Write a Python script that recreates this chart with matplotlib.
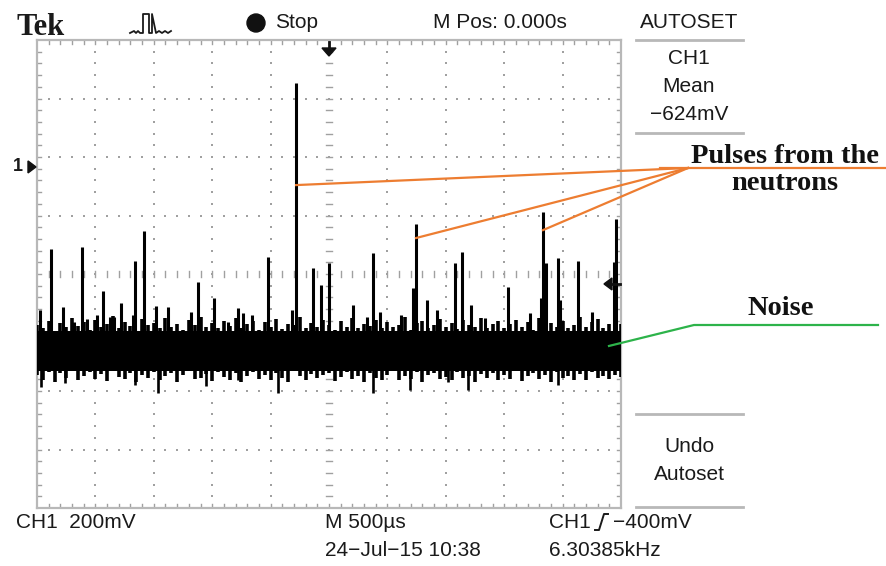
import matplotlib.pyplot as plt
import numpy as np
from matplotlib.patches import Polygon, Circle

W, H = 886, 566

# scope settings
mv_per_div = 200
us_per_div = 500
ground_div = 1.83          # CH1 ground marker, divisions above centre
y_lo = (-4 - ground_div) * mv_per_div
y_hi = (4 - ground_div) * mv_per_div

# neutron pulses (and smaller bumps): time in us, peak in mV
pulse_t = [26, 120, 223, 317, 385, 428, 514, 565, 625, 659, 719, 822, 839, 916,
           1019, 1122, 1319, 1378, 1515, 1635, 1721, 1764, 1841, 1978, 2183, 2218,
           2363, 2432, 2500, 2706, 2825, 2877, 2937, 3117, 3219, 3245, 3339, 3425,
           3579, 3639, 3716, 3836, 4033, 4221, 4315, 4332, 4358, 4461, 4478, 4632,
           4752, 4940, 4957]
pulse_v = [-489, -281, -479, -530, -274, -520, -506, -424, -513, -513, -465, -506, -322, -219,
           -475, -479, -496, -393, -448, -530, -482, -499, -506, -308, -489, 287,
           -345, -404, -328, -472, -513, -294, -496, -506, -414, -195, -455, -489,
           -328, -291, -472, -516, -410, -499, -448, -154, -328, -311, -455, -322,
           -496, -325, -178]

# downward noise spikes
dip_t = [34, 240, 839, 1036, 1447, 1721, 2063, 2877, 3194, 3519, 3690, 4461]
dip_v = [-752, -739, -746, -773, -749, -728, -773, -773, -763, -735, -763, -746]

# noise band
baseline = -622
noise_core = (-698, -562)
noise_t = np.arange(0, 5001, 50)
noise_hi = [-540, -552, -528, -560, -535, -548, -515, -545, -530, -556,
            -522, -548, -538, -510, -552, -530, -545, -560, -520, -542,
            -532, -550, -518, -546, -536, -556, -524, -540, -512, -548,
            -534, -552, -526, -544, -516, -550, -538, -528, -558, -530,
            -546, -520, -554, -536, -542, -514, -550, -532, -548, -524,
            -540, -556, -528, -546, -518, -552, -536, -544, -522, -550,
            -530, -548, -540, -514, -556, -534, -526, -550, -542, -520,
            -546, -532, -554, -524, -540, -548, -516, -552, -536, -528,
            -550, -538, -522, -546, -530, -556, -518, -544, -534, -548,
            -526, -552, -540, -512, -546, -530, -520, -550, -536, -524,
            -538]
noise_lo = [-712, -728, -700, -735, -706, -720, -698, -730, -714, -702,
            -724, -708, -732, -696, -718, -726, -704, -736, -710, -722,
            -700, -730, -716, -706, -734, -712, -698, -726, -720, -708,
            -732, -702, -718, -728, -706, -736, -714, -700, -724, -710,
            -728, -704, -720, -734, -698, -716, -730, -708, -722, -712,
            -706, -732, -718, -700, -726, -714, -736, -704, -720, -728,
            -710, -698, -730, -716, -724, -702, -734, -712, -706, -726,
            -718, -730, -700, -722, -714, -736, -708, -720, -704, -728,
            -712, -726, -698, -732, -716, -706, -724, -710, -734, -702,
            -720, -714, -728, -708, -730, -700, -722, -716, -726, -710,
            -718]

# pulses pointed at by the annotation: index into pulse_t, height on the pulse (mV)
marked = [(25, -62), (35, -243), (45, -216)]

# screen box in image pixels
X0, Y0, X1, Y1 = 37, 40, 621, 508

fig = plt.figure(figsize=(W / 100, H / 100), dpi=100)
ax = fig.add_axes([X0 / W, 1 - Y1 / H, (X1 - X0) / W, (Y1 - Y0) / H])
ax.set_xlim(0, 10 * us_per_div)
ax.set_ylim(y_lo, y_hi)
ax.set_xticks([])
ax.set_yticks([])
for s in ax.spines.values():
    s.set_color('#b8b8b8')
    s.set_linewidth(1.6)

px_t = 10 * us_per_div / (X1 - X0)
px_v = 8 * mv_per_div / (Y1 - Y0)
grey = '#a0a0a0'
t_end = 10 * us_per_div
v_mid = y_lo + 4 * mv_per_div

# dotted grid
for k in range(1, 10):
    if k == 5:
        continue
    vs = y_lo + np.arange(1, 40) * mv_per_div / 5
    ax.scatter(np.full(len(vs), k * us_per_div), vs, s=2.5, marker='s', color=grey, lw=0)
for k in range(1, 8):
    if k == 4:
        continue
    ts = np.arange(1, 50) * us_per_div / 5
    ax.scatter(ts, np.full(len(ts), y_lo + k * mv_per_div), s=2.5, marker='s', color=grey, lw=0)

# centre cross with minor ticks
for j in range(1, 50):
    t = j * us_per_div / 5
    ax.plot([t, t], [v_mid - 3 * px_v, v_mid + 3 * px_v], color=grey, lw=1)
    ax.plot([t, t], [y_hi, y_hi - 4 * px_v], color=grey, lw=1)
    ax.plot([t, t], [y_lo, y_lo + 4 * px_v], color=grey, lw=1)
for j in range(1, 40):
    v = y_lo + j * mv_per_div / 5
    ax.plot([t_end / 2 - 3 * px_t, t_end / 2 + 3 * px_t], [v, v], color=grey, lw=1)
    ax.plot([0, 4 * px_t], [v, v], color=grey, lw=1)
    ax.plot([t_end, t_end - 4 * px_t], [v, v], color=grey, lw=1)

# trace
ax.fill_between([0, t_end], noise_core[0], noise_core[1], color='black', lw=0, zorder=3)
ax.vlines(noise_t, noise_lo, noise_hi, color='black', lw=2.6, zorder=3)
ax.vlines(pulse_t, baseline, pulse_v, color='black', lw=2.2, zorder=4)
ax.vlines(dip_t, baseline, dip_v, color='black', lw=1.9, zorder=4)

# overlay in image pixels for the panel text and labels
ov = fig.add_axes([0, 0, 1, 1], zorder=5)
ov.set_xlim(0, W)
ov.set_ylim(H, 0)
ov.axis('off')
ov.patch.set_alpha(0)


def to_px(t, v):
    return X0 + t / px_t, Y0 + (y_hi - v) / px_v


sans = dict(family='Liberation Sans', color='#1a1a1a', fontsize=15)

ov.text(17, 35, 'Tek', family='Liberation Serif', weight='bold', fontsize=22,
        color='#1a1a1a', va='baseline', ha='left')
ov.plot([130, 134, 136, 138, 140, 143, 143, 149, 149, 152, 152, 156, 159, 162, 165, 168, 171],
        [33, 31, 33, 31, 33, 33, 14, 14, 33, 33, 14, 33, 31, 33, 31, 33, 31],
        color='#1a1a1a', lw=1.3)
ov.add_patch(Circle((256, 23), 9, color='#111111'))
ov.text(275, 23, 'Stop', va='center', ha='left', **sans)
ov.text(433, 23, 'M Pos: 0.000s', va='center', ha='left', **sans)

# right-hand menu
for yl in (40, 133, 414, 507):
    ov.plot([636, 743], [yl, yl], color='#b8b8b8', lw=2)
ov.text(689, 22, 'AUTOSET', va='center', ha='center', **sans)
ov.text(689, 58, 'CH1', va='center', ha='center', **sans)
ov.text(689, 87, 'Mean', va='center', ha='center', **sans)
ov.text(689, 115, '\u2212624mV', va='center', ha='center', **sans)
ov.text(689, 446, 'Undo', va='center', ha='center', **sans)
ov.text(689, 474, 'Autoset', va='center', ha='center', **sans)

# bottom readouts
ov.text(16, 522, 'CH1  200mV', va='center', ha='left', **sans)
ov.text(325, 522, 'M 500\u00b5s', va='center', ha='left', **sans)
ov.text(549, 522, 'CH1', va='center', ha='left', **sans)
ov.plot([595, 599, 604, 608], [530, 530, 514, 514], color='#1a1a1a', lw=1.4)
ov.text(613, 522, '\u2212400mV', va='center', ha='left', **sans)
ov.text(325, 550, '24\u2212Jul\u221215 10:38', va='center', ha='left', **sans)
ov.text(549, 550, '6.30385kHz', va='center', ha='left', **sans)

# channel ground marker and trigger markers
gy = to_px(0, 0)[1]
ov.text(18, gy, '1', va='center', ha='center', fontsize=13, family='Liberation Sans',
        color='#1a1a1a', weight='bold')
ov.add_patch(Polygon([[28, gy - 6], [36, gy], [28, gy + 6]], color='#111111'))
tx = to_px(t_end / 2, 0)[0]
ov.plot([tx, tx], [42, 50], color='#111111', lw=2)
ov.add_patch(Polygon([[tx - 7, 48], [tx + 7, 48], [tx, 56]], color='#111111'))
ly = to_px(0, -400)[1]
ov.add_patch(Polygon([[604, ly], [612, ly - 6], [612, ly + 6]], color='#111111'))
ov.plot([611, 620], [ly, ly], color='#111111', lw=2)

# annotations
orange = '#ED7D31'
hub = (688, 168)
for i, v in marked:
    sx, sy = to_px(pulse_t[i], v)
    ov.plot([sx, hub[0]], [sy, hub[1]], color=orange, lw=1.6)
ov.plot([660, W], [168, 168], color=orange, lw=1.6)
serif = dict(family='Liberation Serif', weight='bold', fontsize=20.5, color='#111111',
             ha='center', va='baseline')
ov.text(785, 163, 'Pulses from the', **serif)
ov.text(785, 190, 'neutrons', **serif)

green = '#2DB34A'
nx, ny = to_px(t_end - 12 * px_t, baseline + 10)
ov.plot([nx, 694, 878], [ny, 325, 325], color=green, lw=1.6)
ov.text(781, 315, 'Noise', **serif)

fig.savefig('out.png', dpi=100)
